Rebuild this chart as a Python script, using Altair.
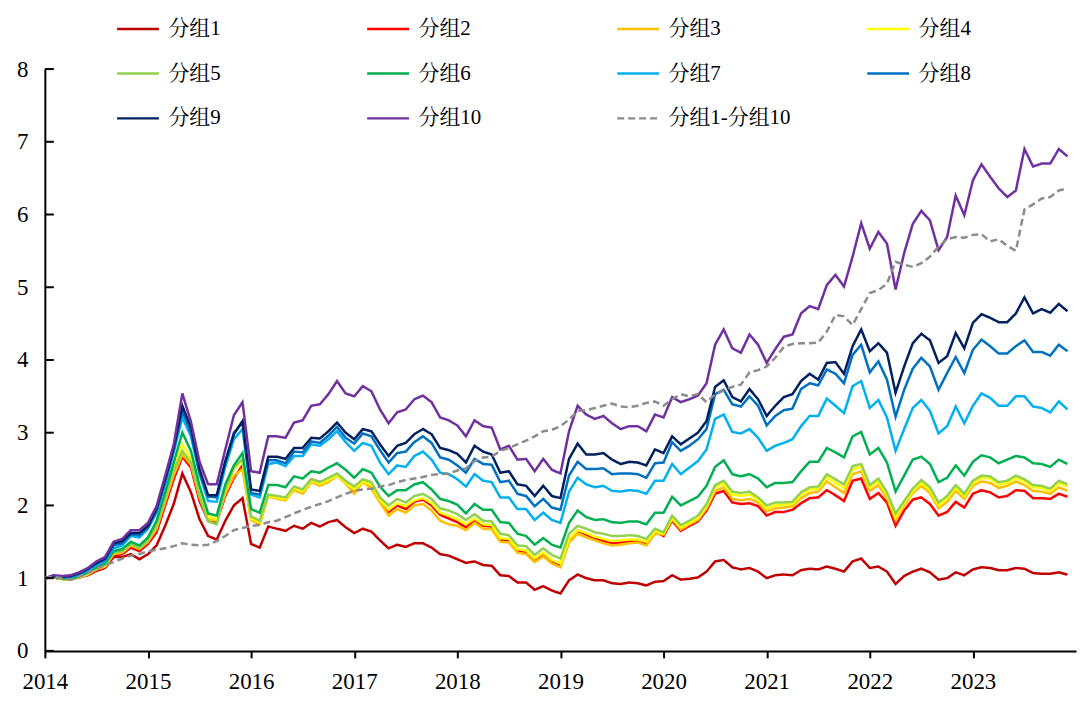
import altair as alt
import pandas as pd

# ---------------- data (monthly, Jan-2014 .. Dec-2023) ----------------
start_year = 2014
year_ticks = list(range(2014, 2024))
y_ticks = [0, 1, 2, 3, 4, 5, 6, 7, 8]

names = ["分组1", "分组2", "分组3", "分组4", "分组5", "分组6", "分组7", "分组8", "分组9", "分组10", "分组1-分组10"]
colors = ["#C00000", "#FF0000", "#FFC000", "#FFFF00", "#92D050", "#00B050",
          "#00B0F0", "#0070C0", "#002060", "#7030A0", "#8C8C8C"]

g1 = [1.00, 1.01, 0.99, 0.99, 1.01, 1.04, 1.10, 1.14, 1.29, 1.29, 1.33, 1.26, 1.33, 1.45, 1.72, 2.02, 2.44, 2.18, 1.81, 1.58, 1.53, 1.79, 2.00, 2.10,
      1.47, 1.42, 1.71, 1.68, 1.65, 1.72, 1.68, 1.76, 1.71, 1.77, 1.80, 1.70, 1.62, 1.68, 1.64, 1.52, 1.41, 1.46, 1.43, 1.48, 1.48, 1.42, 1.33, 1.31, 1.26, 1.21,
      1.23, 1.18, 1.17, 1.04, 1.03, 0.94, 0.94, 0.84, 0.89, 0.83, 0.79, 0.97, 1.05, 1.00, 0.97, 0.97, 0.93, 0.92, 0.94, 0.93, 0.90, 0.95,
      0.96, 1.04, 0.98, 0.99, 1.01, 1.09, 1.23, 1.25, 1.15, 1.12, 1.14, 1.09, 1.00, 1.04, 1.05, 1.04, 1.11, 1.13, 1.12, 1.16, 1.13, 1.09, 1.23, 1.27,
      1.14, 1.16, 1.09, 0.92, 1.03, 1.09, 1.13, 1.08, 0.98, 1.00, 1.08, 1.04, 1.12, 1.15, 1.14, 1.11, 1.11, 1.14, 1.13, 1.07, 1.06, 1.06, 1.08, 1.05]

g2 = [1.00, 1.01, 0.99, 0.98, 1.01, 1.05, 1.11, 1.15, 1.31, 1.33, 1.42, 1.37, 1.47, 1.63, 2.00, 2.36, 2.67, 2.52, 2.06, 1.79, 1.77, 2.13, 2.38, 2.55,
      1.81, 1.76, 2.14, 2.11, 2.09, 2.25, 2.21, 2.36, 2.32, 2.36, 2.43, 2.31, 2.20, 2.33, 2.27, 2.06, 1.91, 2.00, 1.95, 2.05, 2.08, 2.00, 1.87, 1.82, 1.77, 1.70,
      1.80, 1.72, 1.71, 1.53, 1.52, 1.38, 1.36, 1.25, 1.33, 1.23, 1.18, 1.52, 1.65, 1.60, 1.55, 1.51, 1.48, 1.49, 1.51, 1.52, 1.48, 1.64,
      1.58, 1.79, 1.65, 1.72, 1.78, 1.93, 2.16, 2.20, 2.04, 2.02, 2.03, 1.99, 1.86, 1.91, 1.91, 1.94, 2.03, 2.10, 2.11, 2.21, 2.14, 2.06, 2.34, 2.37,
      2.09, 2.17, 2.04, 1.72, 1.93, 2.08, 2.11, 2.02, 1.86, 1.91, 2.05, 1.97, 2.16, 2.21, 2.18, 2.11, 2.13, 2.21, 2.20, 2.10, 2.10, 2.09, 2.16, 2.12]

g3 = [1.00, 1.01, 0.99, 0.98, 1.01, 1.05, 1.12, 1.16, 1.33, 1.35, 1.45, 1.40, 1.50, 1.68, 2.05, 2.42, 2.70, 2.56, 2.11, 1.81, 1.79, 2.16, 2.41, 2.50,
      1.80, 1.74, 2.13, 2.09, 2.07, 2.21, 2.16, 2.32, 2.27, 2.32, 2.41, 2.30, 2.16, 2.32, 2.23, 2.04, 1.86, 1.95, 1.90, 2.00, 2.02, 1.93, 1.79, 1.74, 1.72, 1.66,
      1.76, 1.68, 1.67, 1.50, 1.49, 1.35, 1.33, 1.22, 1.30, 1.20, 1.15, 1.49, 1.61, 1.56, 1.52, 1.48, 1.45, 1.46, 1.48, 1.49, 1.45, 1.61,
      1.60, 1.81, 1.67, 1.74, 1.80, 1.96, 2.20, 2.25, 2.09, 2.07, 2.09, 2.04, 1.92, 1.96, 1.97, 1.99, 2.10, 2.17, 2.19, 2.33, 2.25, 2.17, 2.43, 2.47,
      2.20, 2.28, 2.10, 1.80, 2.00, 2.17, 2.27, 2.17, 1.96, 2.05, 2.20, 2.09, 2.27, 2.33, 2.31, 2.24, 2.27, 2.33, 2.28, 2.20, 2.19, 2.16, 2.25, 2.20]

g4 = [1.00, 1.02, 0.99, 0.98, 1.02, 1.06, 1.13, 1.17, 1.36, 1.38, 1.49, 1.43, 1.53, 1.72, 2.11, 2.50, 2.84, 2.64, 2.18, 1.85, 1.81, 2.20, 2.50, 2.61,
      1.82, 1.77, 2.14, 2.11, 2.09, 2.24, 2.20, 2.34, 2.30, 2.35, 2.42, 2.32, 2.22, 2.33, 2.28, 2.08, 1.94, 2.03, 1.99, 2.07, 2.10, 2.03, 1.90, 1.86, 1.81, 1.74,
      1.82, 1.74, 1.73, 1.55, 1.54, 1.40, 1.38, 1.27, 1.35, 1.25, 1.20, 1.54, 1.66, 1.62, 1.57, 1.54, 1.51, 1.52, 1.53, 1.53, 1.50, 1.65,
      1.61, 1.83, 1.70, 1.76, 1.83, 1.99, 2.25, 2.30, 2.15, 2.13, 2.15, 2.08, 1.96, 2.00, 2.01, 2.02, 2.15, 2.22, 2.23, 2.39, 2.31, 2.24, 2.50, 2.53,
      2.25, 2.33, 2.15, 1.84, 2.03, 2.20, 2.31, 2.21, 2.00, 2.10, 2.25, 2.13, 2.31, 2.38, 2.37, 2.29, 2.31, 2.38, 2.33, 2.25, 2.24, 2.20, 2.31, 2.26]

g5 = [1.00, 1.02, 0.99, 0.98, 1.02, 1.07, 1.13, 1.18, 1.35, 1.37, 1.47, 1.41, 1.52, 1.72, 2.10, 2.48, 2.75, 2.59, 2.13, 1.78, 1.74, 2.22, 2.52, 2.64,
      1.85, 1.79, 2.15, 2.13, 2.11, 2.26, 2.22, 2.36, 2.32, 2.38, 2.44, 2.34, 2.26, 2.36, 2.32, 2.11, 2.00, 2.09, 2.04, 2.13, 2.16, 2.09, 1.96, 1.93, 1.88, 1.80,
      1.88, 1.79, 1.78, 1.61, 1.59, 1.45, 1.44, 1.32, 1.41, 1.32, 1.27, 1.61, 1.72, 1.68, 1.63, 1.61, 1.58, 1.58, 1.59, 1.58, 1.54, 1.68,
      1.63, 1.86, 1.73, 1.79, 1.86, 2.02, 2.28, 2.34, 2.19, 2.17, 2.19, 2.11, 2.00, 2.04, 2.04, 2.05, 2.18, 2.25, 2.26, 2.43, 2.36, 2.29, 2.54, 2.57,
      2.28, 2.37, 2.18, 1.89, 2.06, 2.23, 2.35, 2.25, 2.04, 2.13, 2.28, 2.16, 2.34, 2.41, 2.40, 2.32, 2.34, 2.41, 2.36, 2.28, 2.27, 2.23, 2.34, 2.29]

g6 = [1.00, 1.02, 1.00, 0.99, 1.03, 1.08, 1.15, 1.20, 1.37, 1.40, 1.50, 1.45, 1.56, 1.79, 2.18, 2.59, 3.00, 2.75, 2.27, 1.89, 1.86, 2.29, 2.55, 2.72,
      1.95, 1.90, 2.28, 2.28, 2.25, 2.40, 2.37, 2.47, 2.45, 2.52, 2.58, 2.49, 2.38, 2.50, 2.45, 2.26, 2.13, 2.21, 2.21, 2.29, 2.32, 2.22, 2.09, 2.06, 2.01, 1.89,
      2.02, 1.94, 1.94, 1.77, 1.76, 1.61, 1.58, 1.46, 1.55, 1.46, 1.42, 1.76, 1.93, 1.84, 1.80, 1.81, 1.77, 1.76, 1.78, 1.78, 1.74, 1.90,
      1.90, 2.12, 2.00, 2.06, 2.12, 2.27, 2.53, 2.62, 2.43, 2.40, 2.43, 2.37, 2.25, 2.31, 2.31, 2.32, 2.47, 2.60, 2.60, 2.79, 2.73, 2.66, 2.95, 3.01,
      2.70, 2.79, 2.59, 2.19, 2.41, 2.63, 2.67, 2.57, 2.32, 2.38, 2.55, 2.41, 2.60, 2.69, 2.66, 2.58, 2.63, 2.68, 2.66, 2.58, 2.57, 2.53, 2.63, 2.57]

g7 = [1.00, 1.02, 1.01, 1.01, 1.05, 1.10, 1.18, 1.23, 1.41, 1.45, 1.58, 1.56, 1.68, 1.90, 2.29, 2.73, 3.21, 2.95, 2.43, 2.06, 2.05, 2.53, 2.91, 3.05,
      2.15, 2.11, 2.57, 2.59, 2.54, 2.68, 2.68, 2.84, 2.82, 2.91, 3.02, 2.87, 2.75, 2.86, 2.82, 2.59, 2.43, 2.55, 2.53, 2.68, 2.74, 2.63, 2.45, 2.43, 2.36, 2.26,
      2.43, 2.34, 2.32, 2.11, 2.11, 1.95, 1.95, 1.80, 1.90, 1.80, 1.76, 2.19, 2.38, 2.29, 2.25, 2.27, 2.20, 2.19, 2.21, 2.20, 2.16, 2.34,
      2.34, 2.57, 2.43, 2.52, 2.61, 2.77, 3.19, 3.25, 3.01, 2.99, 3.05, 2.93, 2.75, 2.82, 2.86, 2.91, 3.09, 3.23, 3.23, 3.47, 3.37, 3.27, 3.64, 3.71,
      3.34, 3.45, 3.21, 2.75, 3.05, 3.34, 3.45, 3.30, 2.99, 3.09, 3.36, 3.13, 3.37, 3.54, 3.48, 3.37, 3.37, 3.50, 3.50, 3.36, 3.34, 3.28, 3.43, 3.32]

g8 = [1.00, 1.03, 1.01, 1.02, 1.06, 1.12, 1.20, 1.25, 1.45, 1.48, 1.60, 1.59, 1.70, 1.93, 2.33, 2.77, 3.30, 3.00, 2.45, 2.12, 2.11, 2.59, 3.00, 3.14,
      2.17, 2.15, 2.62, 2.62, 2.58, 2.74, 2.73, 2.88, 2.86, 2.96, 3.08, 2.93, 2.85, 2.99, 2.95, 2.76, 2.59, 2.72, 2.74, 2.87, 2.95, 2.86, 2.66, 2.63, 2.55, 2.45,
      2.64, 2.57, 2.56, 2.32, 2.34, 2.16, 2.13, 1.99, 2.09, 1.97, 1.94, 2.41, 2.60, 2.50, 2.50, 2.51, 2.43, 2.44, 2.44, 2.43, 2.38, 2.58,
      2.59, 2.87, 2.75, 2.82, 2.91, 3.05, 3.53, 3.59, 3.39, 3.36, 3.50, 3.37, 3.10, 3.23, 3.31, 3.33, 3.60, 3.68, 3.65, 3.87, 3.81, 3.68, 4.07, 4.21,
      3.83, 3.98, 3.73, 3.22, 3.59, 3.88, 4.03, 3.91, 3.59, 3.82, 4.04, 3.82, 4.14, 4.28, 4.19, 4.09, 4.09, 4.19, 4.27, 4.11, 4.11, 4.06, 4.21, 4.12]

g9 = [1.00, 1.03, 1.02, 1.03, 1.07, 1.13, 1.21, 1.27, 1.48, 1.51, 1.62, 1.62, 1.72, 1.96, 2.36, 2.80, 3.37, 3.07, 2.50, 2.14, 2.14, 2.61, 2.98, 3.16,
      2.22, 2.20, 2.67, 2.67, 2.64, 2.79, 2.79, 2.93, 2.92, 3.02, 3.14, 3.00, 2.91, 3.05, 3.02, 2.84, 2.68, 2.82, 2.86, 2.98, 3.05, 2.98, 2.79, 2.76, 2.71, 2.59,
      2.82, 2.74, 2.70, 2.45, 2.47, 2.29, 2.27, 2.13, 2.27, 2.13, 2.10, 2.64, 2.85, 2.70, 2.70, 2.72, 2.63, 2.57, 2.60, 2.59, 2.55, 2.77,
      2.72, 2.95, 2.84, 2.92, 3.00, 3.16, 3.63, 3.72, 3.49, 3.43, 3.60, 3.46, 3.23, 3.37, 3.49, 3.53, 3.71, 3.81, 3.73, 3.96, 3.97, 3.81, 4.19, 4.42,
      4.12, 4.23, 4.10, 3.55, 3.91, 4.23, 4.36, 4.27, 3.96, 4.05, 4.37, 4.16, 4.51, 4.63, 4.58, 4.52, 4.52, 4.64, 4.86, 4.64, 4.70, 4.65, 4.77, 4.67]

g10 = [1.00, 1.04, 1.03, 1.04, 1.08, 1.14, 1.23, 1.29, 1.50, 1.54, 1.66, 1.66, 1.76, 1.99, 2.41, 2.84, 3.54, 3.15, 2.60, 2.29, 2.29, 2.77, 3.24, 3.42,
       2.47, 2.45, 2.95, 2.95, 2.93, 3.14, 3.17, 3.37, 3.39, 3.53, 3.71, 3.54, 3.50, 3.64, 3.57, 3.32, 3.13, 3.28, 3.32, 3.46, 3.51, 3.42, 3.21, 3.17, 3.10, 2.95,
       3.17, 3.09, 3.07, 2.77, 2.82, 2.63, 2.64, 2.47, 2.64, 2.49, 2.44, 3.02, 3.37, 3.25, 3.19, 3.23, 3.13, 3.05, 3.09, 3.09, 3.02, 3.25,
       3.21, 3.49, 3.42, 3.46, 3.51, 3.68, 4.21, 4.42, 4.16, 4.10, 4.35, 4.21, 3.96, 4.15, 4.32, 4.35, 4.64, 4.74, 4.70, 5.03, 5.17, 5.01, 5.42, 5.88,
       5.53, 5.76, 5.60, 4.97, 5.47, 5.87, 6.05, 5.92, 5.51, 5.69, 6.26, 5.99, 6.47, 6.69, 6.52, 6.36, 6.24, 6.33, 6.90, 6.66, 6.70, 6.70, 6.90, 6.80]

g1_10 = [1.00, 1.02, 1.00, 0.98, 1.02, 1.07, 1.13, 1.18, 1.22, 1.27, 1.31, 1.33, 1.37, 1.39, 1.41, 1.44, 1.48, 1.46, 1.45, 1.46, 1.51, 1.58, 1.66, 1.69,
         1.72, 1.73, 1.77, 1.79, 1.84, 1.89, 1.94, 1.98, 2.02, 2.06, 2.11, 2.16, 2.20, 2.22, 2.23, 2.26, 2.28, 2.32, 2.35, 2.37, 2.39, 2.42, 2.43, 2.44, 2.48, 2.51,
         2.61, 2.66, 2.67, 2.75, 2.79, 2.84, 2.89, 2.95, 3.02, 3.04, 3.09, 3.18, 3.30, 3.31, 3.34, 3.37, 3.40, 3.36, 3.35, 3.37, 3.41, 3.43,
         3.37, 3.46, 3.53, 3.50, 3.53, 3.42, 3.53, 3.58, 3.63, 3.66, 3.83, 3.86, 3.91, 4.03, 4.18, 4.22, 4.23, 4.23, 4.24, 4.39, 4.62, 4.60, 4.48, 4.70,
         4.92, 4.96, 5.05, 5.35, 5.31, 5.28, 5.33, 5.42, 5.56, 5.66, 5.69, 5.68, 5.72, 5.73, 5.63, 5.66, 5.57, 5.50, 6.07, 6.14, 6.22, 6.24, 6.33, 6.36]

series = [g1, g2, g3, g4, g5, g6, g7, g8, g9, g10, g1_10]

rows = []
for name, vals in zip(names, series):
    for i, v in enumerate(vals):
        rows.append({"t": start_year + i / 12.0, "v": v, "g": name})
df = pd.DataFrame(rows)
df_solid = df[df["g"] != "分组1-分组10"]
df_dash = df[df["g"] == "分组1-分组10"]
tick_df = pd.DataFrame({"v": y_ticks})

# ---------------- styling ----------------
SERIF = "Times New Roman, Liberation Serif, Noto Serif CJK SC, Noto Sans CJK SC"
dashes = [[1, 0]] * 10 + [[7, 4]]

legend = alt.Legend(
    orient="none", legendX=71, legendY=-63, direction="horizontal", columns=4,
    title=None, symbolType="stroke", symbolSize=1764, symbolStrokeWidth=2.5,
    labelFont=SERIF, labelFontSize=21, labelColor="black", labelOffset=8,
    columnPadding=71, rowPadding=12, gridAlign="all", labelLimit=300,
)

x_enc = alt.X("t:Q", scale=alt.Scale(domain=[2014, 2024], nice=False, zero=False),
              axis=alt.Axis(values=year_ticks, format="d", title=None, grid=False,
                            labelFlush=False, tickSize=7, labelPadding=13))
y_enc = alt.Y("v:Q", scale=alt.Scale(domain=[0, 8], nice=False),
              axis=alt.Axis(values=y_ticks, title=None, grid=False, ticks=False,
                            labelPadding=17, format="d"))
color_enc = alt.Color("g:N", scale=alt.Scale(domain=names, range=colors), legend=legend)
dash_enc = alt.StrokeDash("g:N", scale=alt.Scale(domain=names, range=dashes), legend=legend)

solid = alt.Chart(df_solid).mark_line(strokeWidth=2.5).encode(
    x=x_enc, y=y_enc, color=color_enc, strokeDash=dash_enc)
dashed = alt.Chart(df_dash).mark_line(strokeWidth=2.5).encode(
    x=x_enc, y=y_enc, color=color_enc, strokeDash=dash_enc)

yticks = alt.Chart(tick_df).mark_rule(color="black", strokeWidth=2).encode(
    y=alt.Y("v:Q"), x=alt.value(0), x2=alt.value(9))

chart = alt.layer(solid, dashed, yticks).properties(
    width=1035, height=584,
    autosize=alt.AutoSizeParams(type="none"),
    padding={"left": 37, "top": 60, "right": 5, "bottom": 45},
).configure_axis(
    domainColor="black", domainWidth=2, tickColor="black", tickWidth=2,
    labelColor="black", labelFont=SERIF, labelFontSize=23,
).configure_view(strokeWidth=0)

chart.save("out.html", embed_options={"renderer": "svg", "actions": False})
